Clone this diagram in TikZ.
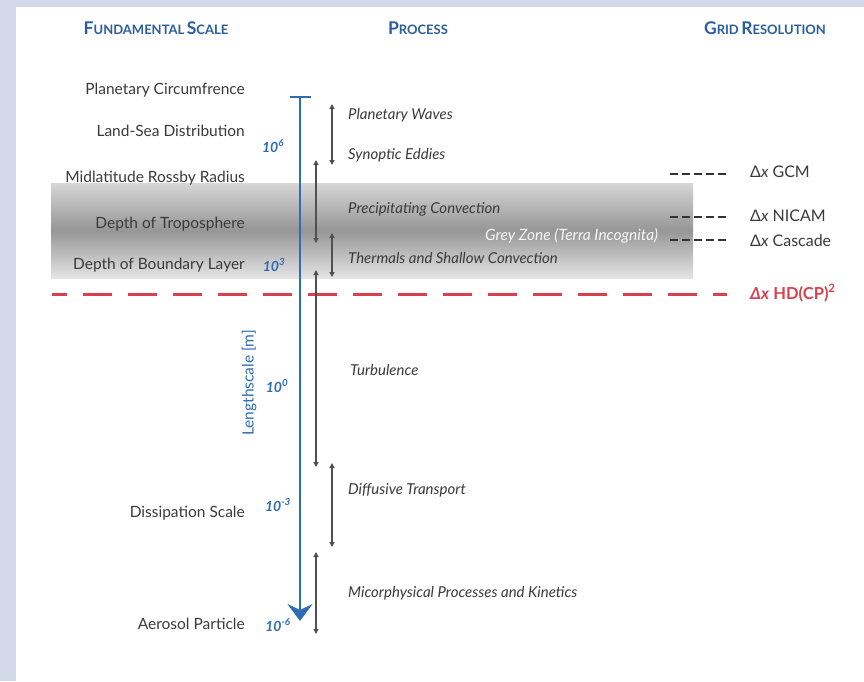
\documentclass[tikz,border=0pt]{standalone}
\usepackage{fontspec}
\setmainfont{Lato}
\usetikzlibrary{arrows.meta}
\definecolor{bgpanel}{HTML}{D3D8EA}
\definecolor{hdrblue}{HTML}{2B5E9E}
\definecolor{axblue}{HTML}{2E6DB4}
\definecolor{hdred}{HTML}{D8404E}
\definecolor{txt}{HTML}{3A3A3A}
\definecolor{arr}{HTML}{505050}
\definecolor{zonetop}{HTML}{D6D6D6}
\definecolor{zonemid}{HTML}{969696}
\definecolor{zonebot}{HTML}{E4E4E4}
\newcommand{\hsc}[2]{{\fontsize{17.5}{18}\selectfont #1}{\fontsize{13}{14}\selectfont #2}}
\begin{document}
\begin{tikzpicture}[x=1pt,y=-1pt,
  hdr/.style={text=hdrblue, font=\bfseries, inner sep=0pt},
  scalelbl/.style={text=txt, anchor=east, inner sep=0pt, font=\fontsize{15.5}{17}\selectfont},
  proclbl/.style={text=txt, anchor=west, inner sep=0pt, font=\fontsize{15}{17}\selectfont\itshape},
  expo/.style={text=axblue, inner sep=0pt, font=\fontsize{14}{15}\selectfont\bfseries\itshape},
  gridlbl/.style={text=txt, anchor=west, inner sep=0pt, font=\fontsize{16}{17}\selectfont},
  procarrow/.style={arr, line width=1.1pt, {Triangle[length=5pt,width=5pt]}-{Triangle[length=5pt,width=5pt]}},
  griddash/.style={black!80, line width=1.8pt, dash pattern=on 8pt off 4pt}
]
\useasboundingbox (0,0) rectangle (864,681);
\fill[bgpanel] (0,0) rectangle (864,681);
\fill[white] (16,7) rectangle (864,681);

% grey zone
\shade[top color=zonetop, bottom color=zonebot, middle color=zonemid] (51,183) rectangle (693,278);
\node[text=white!94!gray, inner sep=0pt, font=\fontsize{15.5}{17}\selectfont\itshape, anchor=west] (gz) at (485,236) {Grey Zone (Terra Incognita)};

% headers
\node[hdr] (h1) at (156,28) {\hsc{F}{UNDAMENTAL} \hsc{S}{CALE}};
\node[hdr] (h2) at (418,28) {\hsc{P}{ROCESS}};
\node[hdr] (h3) at (765,28) {\hsc{G}{RID} \hsc{R}{ESOLUTION}};

% fundamental scales
\node[scalelbl] (s1) at (245,90) {Planetary Circumfrence};
\node[scalelbl] (s2) at (245,131) {Land-Sea Distribution};
\node[scalelbl] (s3) at (245,178) {Midlatitude Rossby Radius};
\node[scalelbl] (s4) at (245,224) {Depth of Troposphere};
\node[scalelbl] (s5) at (245,265) {Depth of Boundary Layer};
\node[scalelbl] (s6) at (245,513) {Dissipation Scale};
\node[scalelbl] (s7) at (245,624) {Aerosol Particle};

% exponents
\node[expo] (e6) at (273,146) {10\textsuperscript{6}};
\node[expo] (e3) at (274,265) {10\textsuperscript{3}};
\node[expo] (e0) at (277,386) {10\textsuperscript{0}};
\node[expo] (em3) at (278,505) {10\textsuperscript{-3}};
\node[expo] (em6) at (278,625) {10\textsuperscript{-6}};
\node[text=axblue, rotate=90, inner sep=0pt, font=\fontsize{15.5}{17}\selectfont] (ls) at (249,383) {Lengthscale [m]};

% red HD(CP) line
\coordinate (redL) at (52,294);
\coordinate (redR) at (727,294);
\draw[hdred, line width=3pt, dash pattern=on 29pt off 16pt, dash phase=14pt] (redL) -- (redR);

% blue axis
\coordinate (axtop) at (300,97);
\coordinate (axbot) at (300,621);
\coordinate (tickL) at (290,97);
\coordinate (tickR) at (311,97);
\draw[axblue, line width=2.6pt, -{Stealth[length=17pt,width=25pt,inset=6pt]}] (axtop) -- (axbot);
\draw[axblue, line width=2.2pt] (tickL) -- (tickR);

% process arrows
\coordinate (a1t) at (332,104); \coordinate (a1b) at (332,165);
\coordinate (a2t) at (316,160); \coordinate (a2b) at (316,243);
\coordinate (a3t) at (332,233); \coordinate (a3b) at (332,277);
\coordinate (a4t) at (316,270); \coordinate (a4b) at (316,467);
\coordinate (a5t) at (332,463); \coordinate (a5b) at (332,547);
\coordinate (a6t) at (316,552); \coordinate (a6b) at (316,634);
\draw[procarrow] (a1t) -- (a1b);
\draw[procarrow] (a2t) -- (a2b);
\draw[procarrow] (a3t) -- (a3b);
\draw[procarrow] (a4t) -- (a4b);
\draw[procarrow] (a5t) -- (a5b);
\draw[procarrow] (a6t) -- (a6b);

% process labels
\node[proclbl] (p1) at (348,115) {Planetary Waves};
\node[proclbl] (p2) at (348,155) {Synoptic Eddies};
\node[proclbl] (p3) at (348,209) {Precipitating Convection};
\node[proclbl] (p4) at (348,258) {Thermals and Shallow Convection};
\node[proclbl] (p5) at (350,370) {Turbulence};
\node[proclbl] (p6) at (348,490) {Diffusive Transport};
\node[proclbl] (p7) at (348,593) {Micorphysical Processes and Kinetics};

% grid resolution
\coordinate (g1L) at (670,174); \coordinate (g1R) at (727,174);
\coordinate (g2L) at (670,217); \coordinate (g2R) at (727,217);
\coordinate (g3L) at (670,240); \coordinate (g3R) at (727,240);
\draw[griddash] (g1L) -- (g1R);
\draw[griddash] (g2L) -- (g2R);
\draw[griddash] (g3L) -- (g3R);
\node[gridlbl] (r1) at (750,172) {Δ\textit{x} GCM};
\node[gridlbl] (r2) at (750,216) {Δ\textit{x} NICAM};
\node[gridlbl] (r3) at (750,241) {Δ\textit{x} Cascade};
\node[gridlbl, text=hdred, font=\fontsize{16.5}{17}\selectfont\bfseries] (r4) at (750,293) {\textit{Δx} HD(CP)\textsuperscript{2}};
\end{tikzpicture}
\end{document}
